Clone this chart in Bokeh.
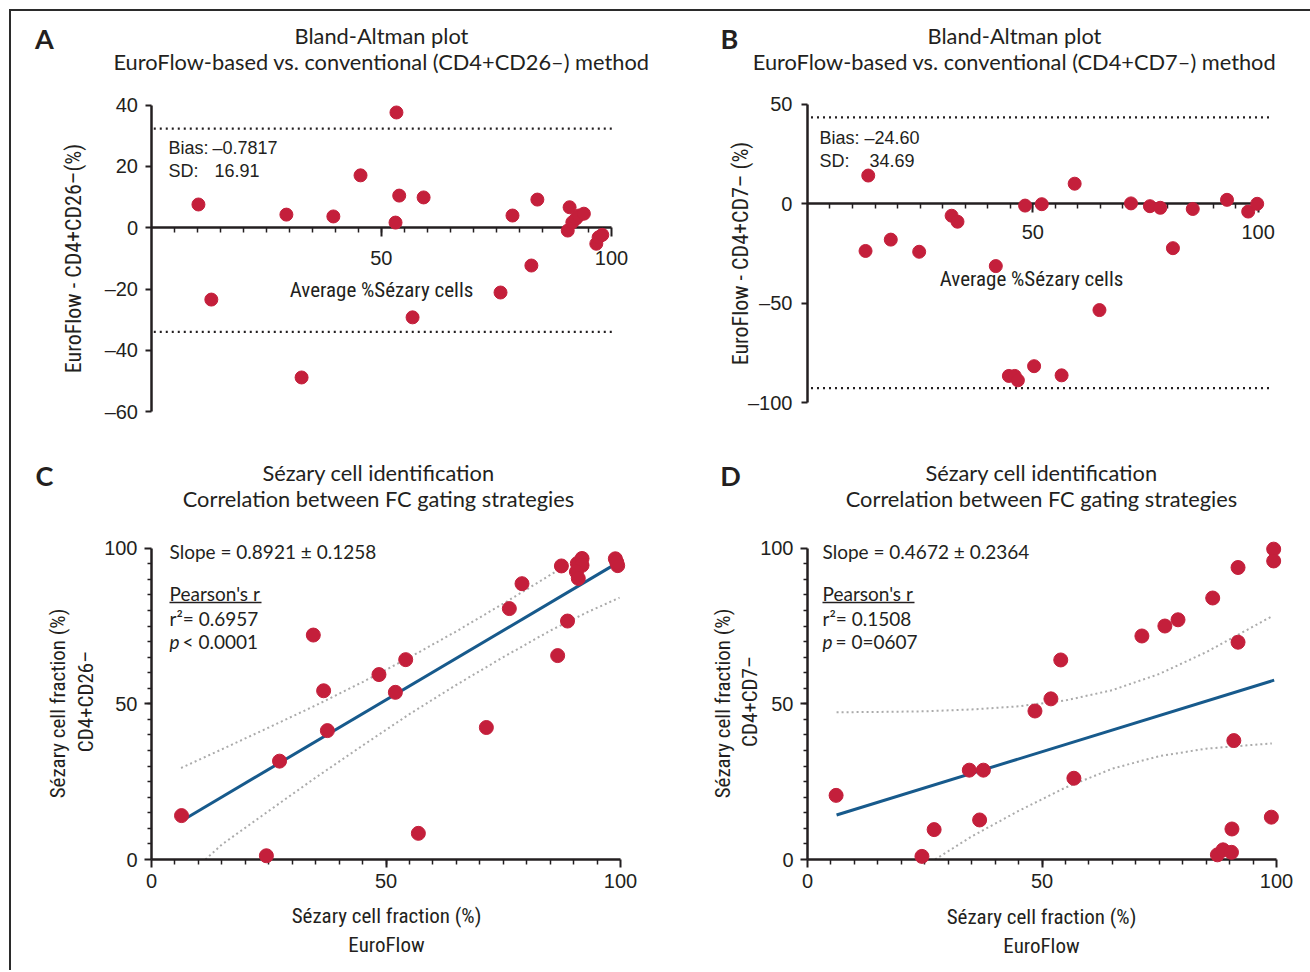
import math
from bokeh.plotting import figure
from bokeh.models import Range1d, LinearAxis, FixedTicker, Label
from bokeh.layouts import column, row
from bokeh.embed import file_html
from bokeh.resources import INLINE

# ---------------- data ----------------
# A: Bland-Altman, EuroFlow-based vs conventional (CD4+CD26-)
a_average = [10.3, 13.1, 29.4, 32.7, 39.6, 45.5, 53.3, 53.1, 53.9, 56.8, 59.2, 75.9, 78.5, 82.6,
             83.9, 90.9, 90.5, 91.5, 92.3, 92.9, 94.0, 96.7, 97.2, 98.0]
a_difference = [7.6, -23.4, 4.3, -48.8, 3.7, 17.1, 37.6, 1.7, 10.5, -29.2, 9.9, -21.1, 4.0, -12.3,
                9.2, 6.7, -0.9, 1.8, 3.0, 4.0, 4.6, -5.2, -3.1, -2.3]
a_bias_text = "\u20130.7817"
a_sd_text = "16.91"
a_limits = [32.36, -33.92]

# B: Bland-Altman, EuroFlow-based vs conventional (CD4+CD7-)
b_average = [13.5, 12.9, 18.5, 24.8, 32.0, 33.3, 41.8, 44.7, 46.0, 46.7, 48.3, 50.3, 52.0, 56.4,
             59.3, 64.8, 71.8, 76.0, 78.3, 81.1, 85.5, 93.1, 97.8, 99.8]
b_difference = [14.2, -23.7, -18.0, -24.1, -6.0, -9.0, -31.3, -86.5, -86.5, -88.7, -0.9, -81.6, -0.2,
                -86.2, 10.1, -53.4, 0.2, -1.2, -2.0, -22.3, -2.6, 2.0, -3.9, 0.0]
b_bias_text = "\u201324.60"
b_sd_text = "34.69"
b_limits = [43.39, -92.59]

# C: correlation EuroFlow vs CD4+CD26-
c_euroflow = [6.4, 24.5, 27.3, 34.5, 36.7, 37.5, 48.5, 52.0, 54.2, 56.9, 71.4, 76.3, 79.0, 86.6,
              87.4, 88.7, 90.8, 91.8, 91.8, 90.6, 91.0, 98.9, 99.4, 99.2]
c_cd26 = [14.1, 1.2, 31.6, 72.1, 54.2, 41.4, 59.4, 53.7, 64.2, 8.4, 42.4, 80.6, 88.6, 65.5,
          94.3, 76.6, 95.1, 96.7, 94.5, 92.4, 90.3, 96.6, 94.4, 95.5]
c_fit_x = [6.3, 98.8]
c_fit_y = [12.3, 94.8]
c_upper_x = [6.3, 15, 25, 35, 45, 55, 65, 75, 82, 88]
c_upper_y = [29.4, 35.4, 42.4, 49.5, 57.0, 64.9, 73.3, 82.2, 88.6, 94.2]
c_lower_x = [11.5, 15, 25, 35, 45, 55, 65, 75, 85, 93, 99.8]
c_lower_y = [0.0, 4.8, 15.6, 26.3, 36.6, 46.7, 56.1, 65.0, 73.5, 79.5, 84.1]

# D: correlation EuroFlow vs CD4+CD7-
d_euroflow = [6.1, 24.4, 27.0, 34.5, 37.5, 36.7, 48.5, 51.9, 54.0, 56.8, 71.3, 76.2, 79.0, 86.4,
              91.8, 91.8, 90.9, 90.5, 87.4, 88.6, 90.4, 98.9, 99.4, 99.4]
d_cd7 = [20.6, 1.0, 9.6, 28.7, 28.7, 12.7, 47.7, 51.6, 64.1, 26.1, 71.8, 75.0, 77.0, 84.0,
         93.8, 69.8, 38.2, 9.8, 1.5, 3.1, 2.3, 13.6, 99.7, 95.9]
d_fit_x = [6.2, 99.5]
d_fit_y = [14.3, 57.6]
d_upper_x = [6.2, 15, 25, 35, 45, 55, 65, 75, 85, 99]
d_upper_y = [47.3, 47.4, 47.6, 48.2, 49.2, 51.1, 54.4, 59.6, 66.6, 78.1]
d_lower_x = [27.2, 35, 45, 55, 65, 75, 85, 99]
d_lower_y = [0.0, 7.4, 15.6, 23.1, 29.2, 33.2, 35.6, 37.3]

# ---------------- style ----------------
INK = "#231f20"
RED = "#c41f3b"
BLUE = "#175a8c"
BAND = "#ababab"
TITLE_FONT = "Lato"
TICK_FONT = "Liberation Sans"
AXIS_FONT = "Roboto Condensed"
AS = 21  # axis title size
TS = 21.8  # panel title size

# page geometry of each panel: canvas box, pixel of data origin, pixels per unit
GA = dict(left=11, top=11, w=645, h=434, x0=150.5, sx=4.605, y0=227.3, sy=3.067)
GB = dict(left=656, top=11, w=654, h=434, x0=806.9, sx=4.507, y0=203.3, sy=1.99)
GC = dict(left=11, top=445, w=645, h=525, x0=151.0, sx=4.69, y0=859.0, sy=3.113)
GD = dict(left=656, top=445, w=654, h=525, x0=807.0, sx=4.69, y0=859.0, sy=3.113)


def make_panel(g):
    xr = Range1d((g["left"] - g["x0"]) / g["sx"], (g["left"] + g["w"] - g["x0"]) / g["sx"])
    yr = Range1d((g["y0"] - g["top"] - g["h"]) / g["sy"], (g["y0"] - g["top"]) / g["sy"])
    p = figure(width=g["w"], height=g["h"], x_range=xr, y_range=yr,
               x_axis_location=None, y_axis_location=None,
               toolbar_location=None, output_backend="svg",
               min_border=0, outline_line_color=None,
               background_fill_color="white", border_fill_color="white")
    p.grid.visible = False
    return p


def style_axis(ax, size, standoff, major_out, minor_out):
    ax.axis_line_width = 2.5
    ax.axis_line_color = INK
    ax.major_tick_line_width = 2
    ax.major_tick_line_color = INK
    ax.major_tick_in = 0
    ax.major_tick_out = major_out
    ax.minor_tick_line_width = 1.5
    ax.minor_tick_line_color = INK
    ax.minor_tick_in = 0
    ax.minor_tick_out = minor_out
    ax.major_label_text_font = TICK_FONT
    ax.major_label_text_font_size = f"{size}px"
    ax.major_label_text_color = INK
    ax.major_label_standoff = standoff


def dash_labels(ticks):
    return {t: str(t).replace("-", "\u2013") for t in ticks}


def add_axes(p, xbounds, xticks, xminor, ybounds, yticks, yminor, size, xstand, ystand,
             xmaj=8, ymaj=7):
    xa = LinearAxis(fixed_location=0, bounds=xbounds,
                    ticker=FixedTicker(ticks=xticks, minor_ticks=xminor),
                    major_label_overrides=dash_labels(xticks))
    style_axis(xa, size, xstand, xmaj, 5)
    p.add_layout(xa, "below")
    ya = LinearAxis(fixed_location=0, bounds=ybounds,
                    ticker=FixedTicker(ticks=yticks, minor_ticks=yminor),
                    major_label_overrides=dash_labels(yticks))
    style_axis(ya, size, ystand, ymaj, 4)
    p.add_layout(ya, "left")


def put(p, g, px, py, text, size, font=TITLE_FONT, align="left", angle=0.0, style="normal"):
    p.add_layout(Label(x=(px - g["x0"]) / g["sx"], y=(g["y0"] - py) / g["sy"], text=text,
                       text_font=font, text_font_size=f"{size}px", text_font_style=style,
                       text_color=INK, text_align=align, text_baseline="middle", angle=angle))


def underline(p, g, px1, px2, py):
    p.line([(px1 - g["x0"]) / g["sx"], (px2 - g["x0"]) / g["sx"]],
           [(g["y0"] - py) / g["sy"]] * 2, line_color=INK, line_width=1.4)


minor5 = list(range(5, 100, 5))
UP = math.pi / 2

# ---------------- panel A ----------------
pA = make_panel(GA)
for lim in a_limits:
    pA.line([0.6, 100.8], [lim, lim], line_color=INK, line_width=2.2, line_dash="2 4")
add_axes(pA, (0, 100), [50, 100], minor5, (-60, 40), [-60, -40, -20, 0, 20, 40], [],
         20, 14, 7, xmaj=9, ymaj=6)
pA.scatter(a_average, a_difference, size=13, color=RED, level="overlay")
put(pA, GA, 44, 38, "A", 27, align="center", style="bold")
put(pA, GA, 381, 35, "Bland-Altman plot", TS, align="center")
put(pA, GA, 381, 61, "EuroFlow-based vs. conventional (CD4+CD26\u2013) method", TS, align="center")
put(pA, GA, 73, 258, "EuroFlow - CD4+CD26\u2013(%)", 22, font=AXIS_FONT, align="center", angle=UP)
put(pA, GA, 381, 289, "Average %S\u00e9zary cells", AS, font=AXIS_FONT, align="center")
put(pA, GA, 168, 147, "Bias:", 18, font=TICK_FONT)
put(pA, GA, 212, 147, a_bias_text, 18, font=TICK_FONT)
put(pA, GA, 168, 170, "SD:", 18, font=TICK_FONT)
put(pA, GA, 214, 170, a_sd_text, 18, font=TICK_FONT)

# ---------------- panel B ----------------
pB = make_panel(GB)
for lim in b_limits:
    pB.line([0.8, 102.6], [lim, lim], line_color=INK, line_width=2.2, line_dash="2 4")
add_axes(pB, (0, 100), [50, 100], minor5, (-100, 50), [-100, -50, 0, 50], [],
         20, 12, 9, xmaj=9, ymaj=6)
pB.scatter(b_average, b_difference, size=13, color=RED, level="overlay")
put(pB, GB, 729, 38, "B", 27, align="center", style="bold")
put(pB, GB, 1014, 35, "Bland-Altman plot", TS, align="center")
put(pB, GB, 1014, 61, "EuroFlow-based vs. conventional (CD4+CD7\u2013) method", TS, align="center")
put(pB, GB, 740, 253, "EuroFlow - CD4+CD7\u2013 (%)", 22, font=AXIS_FONT, align="center", angle=UP)
put(pB, GB, 1031, 278, "Average %S\u00e9zary cells", AS, font=AXIS_FONT, align="center")
put(pB, GB, 819, 137, "Bias:", 18, font=TICK_FONT)
put(pB, GB, 864, 137, b_bias_text, 18, font=TICK_FONT)
put(pB, GB, 819, 160, "SD:", 18, font=TICK_FONT)
put(pB, GB, 869, 160, b_sd_text, 18, font=TICK_FONT)

# ---------------- panel C ----------------
pC = make_panel(GC)
pC.line(c_upper_x, c_upper_y, line_color=BAND, line_width=2, line_dash="2 3")
pC.line(c_lower_x, c_lower_y, line_color=BAND, line_width=2, line_dash="2 3")
pC.line(c_fit_x, c_fit_y, line_color=BLUE, line_width=3)
add_axes(pC, (0, 100), [0, 50, 100], minor5, (0, 100), [0, 50, 100], minor5, 20, 6, 7)
pC.scatter(c_euroflow, c_cd26, size=14, color=RED, level="overlay")
put(pC, GC, 44, 475, "C", 27, align="center", style="bold")
put(pC, GC, 378, 472, "S\u00e9zary cell identification", TS, align="center")
put(pC, GC, 378, 498, "Correlation between FC gating strategies", TS, align="center")
put(pC, GC, 57, 703, "S\u00e9zary cell fraction (%)", AS, font=AXIS_FONT, align="center", angle=UP)
put(pC, GC, 85, 701, "CD4+CD26\u2013", AS, font=AXIS_FONT, align="center", angle=UP)
put(pC, GC, 386, 915, "S\u00e9zary cell fraction (%)", AS, font=AXIS_FONT, align="center")
put(pC, GC, 386, 944, "EuroFlow", AS, font=AXIS_FONT, align="center")
put(pC, GC, 169, 551, "Slope = 0.8921 \u00b1 0.1258", 19)
put(pC, GC, 169, 593, "Pearson's r", 19)
underline(pC, GC, 169, 261, 602)
put(pC, GC, 169, 618, "r\u00b2= 0.6957", 19)
put(pC, GC, 169, 641, "p", 19, style="italic")
put(pC, GC, 182, 641, "< 0.0001", 19)

# ---------------- panel D ----------------
pD = make_panel(GD)
pD.line(d_upper_x, d_upper_y, line_color=BAND, line_width=2, line_dash="2 3")
pD.line(d_lower_x, d_lower_y, line_color=BAND, line_width=2, line_dash="2 3")
pD.line(d_fit_x, d_fit_y, line_color=BLUE, line_width=3)
add_axes(pD, (0, 100), [0, 50, 100], minor5, (0, 100), [0, 50, 100], minor5, 20, 6, 7)
pD.scatter(d_euroflow, d_cd7, size=14, color=RED, level="overlay")
put(pD, GD, 730, 475, "D", 27, align="center", style="bold")
put(pD, GD, 1041, 472, "S\u00e9zary cell identification", TS, align="center")
put(pD, GD, 1041, 498, "Correlation between FC gating strategies", TS, align="center")
put(pD, GD, 722, 703, "S\u00e9zary cell fraction (%)", AS, font=AXIS_FONT, align="center", angle=UP)
put(pD, GD, 749, 701, "CD4+CD7\u2013", AS, font=AXIS_FONT, align="center", angle=UP)
put(pD, GD, 1041, 916, "S\u00e9zary cell fraction (%)", AS, font=AXIS_FONT, align="center")
put(pD, GD, 1041, 945, "EuroFlow", AS, font=AXIS_FONT, align="center")
put(pD, GD, 822, 551, "Slope = 0.4672 \u00b1 0.2364", 19)
put(pD, GD, 822, 593, "Pearson's r", 19)
underline(pD, GD, 822, 914, 602)
put(pD, GD, 822, 618, "r\u00b2= 0.1508", 19)
put(pD, GD, 822, 641, "p", 19, style="italic")
put(pD, GD, 835, 641, "= 0=0607", 19)

layout = column(row(pA, pB), row(pC, pD),
                styles={"margin-left": "9px", "margin-top": "9px",
                        "border-left": "2px solid #2b2b2b", "border-top": "2px solid #2b2b2b"})

open("out.html", "w").write(file_html(layout, INLINE))
